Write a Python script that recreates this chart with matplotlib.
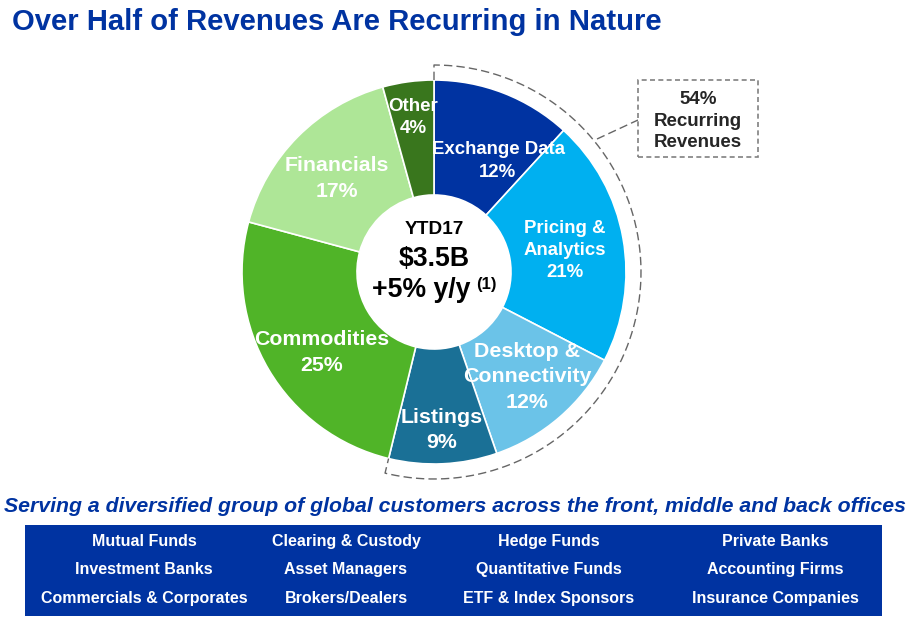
import numpy as np
import matplotlib
matplotlib.use('Agg')
import matplotlib.pyplot as plt
from matplotlib.patches import Rectangle, Circle

plt.rcParams['font.family'] = ['Liberation Sans', 'DejaVu Sans']

W, H = 910, 624

# clockwise from 12 o'clock
segments = ['Exchange Data', 'Pricing &\nAnalytics', 'Desktop &\nConnectivity', 'Listings',
            'Commodities', 'Financials', 'Other']
# printed labels, and the slice sizes
share_labels = ['12%', '21%', '12%', '9%', '25%', '17%', '4%']
shares = [11.8, 20.8, 12.1, 9.1, 25.4, 16.5, 4.3]
colors = ['#0033a1', '#00b0f0', '#6bc3e8', '#1a7096', '#50b428', '#aee697', '#39761d']
customers = [['Mutual Funds', 'Clearing & Custody', 'Hedge Funds', 'Private Banks'],
             ['Investment Banks', 'Asset Managers', 'Quantitative Funds', 'Accounting Firms'],
             ['Commercials & Corporates', 'Brokers/Dealers', 'ETF & Index Sponsors', 'Insurance Companies']]

BLUE = '#0033a1'
GREY = '#666666'


def py(y):
    # pixel row -> axes y
    return H - y


fig = plt.figure(figsize=(W / 100, H / 100), dpi=100)
ax = fig.add_axes([0, 0, 1, 1])

cx, cy = 434, py(272)
R, r = 192, 77
ax.pie(shares, colors=colors, startangle=90, counterclock=False, center=(cx, cy), radius=R,
       wedgeprops=dict(width=R - r, edgecolor='white', linewidth=1.2))
ax.add_patch(Circle((cx, cy), r, fc='white', ec='none', zorder=3))

ax.set_xlim(0, W)
ax.set_ylim(0, H)
ax.set_aspect('auto')
ax.axis('off')


def txt(x, y, s, size, color='white', **kw):
    kw.setdefault('weight', 'bold')
    kw.setdefault('va', 'center')
    ax.text(x, py(y), s, fontsize=size, color=color, ha='center', zorder=5, **kw)


ax.text(12, py(22), 'Over Half of Revenues Are Recurring in Nature', fontsize=21.1, color=BLUE,
        weight='bold', ha='left', va='center')

# slice labels
label_pos = [(498, 161), (565, 250.5), (527, 377), (442, 430), (322, 352.5), (337, 178.5), (413, 117.5)]
label_size = [13.4, 13.4, 15.4, 15.4, 15.3, 15.3, 13.5]
for seg, val, pos, fs in zip(segments, share_labels, label_pos, label_size):
    txt(pos[0], pos[1], f'{seg}\n{val}', fs, linespacing=1.42)

# centre
txt(434, 230, 'YTD17', 13.7, color='black')
txt(434, 259, '$3.5B', 19.2, color='black')
txt(421, 290, '+5% y/y', 19.2, color='black')
txt(486, 285, '(1)', 12, color='black')

# dashed bracket round the recurring slices
rec = 207
recurring_end = np.deg2rad(360 * sum(shares[:4]) / 100)
t = np.linspace(0, recurring_end, 200)
xs = list(cx + rec * np.sin(t))
ys = list(cy + rec * np.cos(t))
xs = [cx] + xs + [cx + R * np.sin(recurring_end)]
ys = [cy + R] + ys + [cy + R * np.cos(recurring_end)]
ax.plot(xs, ys, color=GREY, lw=1, ls=(0, (6, 3)), zorder=2)

# callout box
ax.plot([597, 638], [py(139), py(120)], color=GREY, lw=1, ls=(0, (6, 3)))
ax.add_patch(Rectangle((638, py(157)), 120, 77, fc='white', ec='#808080', lw=1.2, ls=(0, (3, 2)), zorder=4))
txt(698, 121, '54%\nRecurring\nRevenues', 13.5, color='#262626', linespacing=1.38)

# customers
ax.text(454.5, py(507), 'Serving a diversified group of global customers across the front, middle and back offices',
        fontsize=15.3, color=BLUE, weight='bold', style='italic', ha='center', va='center')
ax.add_patch(Rectangle((25, py(616)), 857, 91, fc=BLUE, ec='none'))
col_x = [144, 346, 549, 775]
row_y = [546, 574, 603]
for row, yy in zip(customers, row_y):
    for name, xx in zip(row, col_x):
        txt(xx, yy, name, 11.5, va='baseline')

fig.savefig('out.png', dpi=100)
